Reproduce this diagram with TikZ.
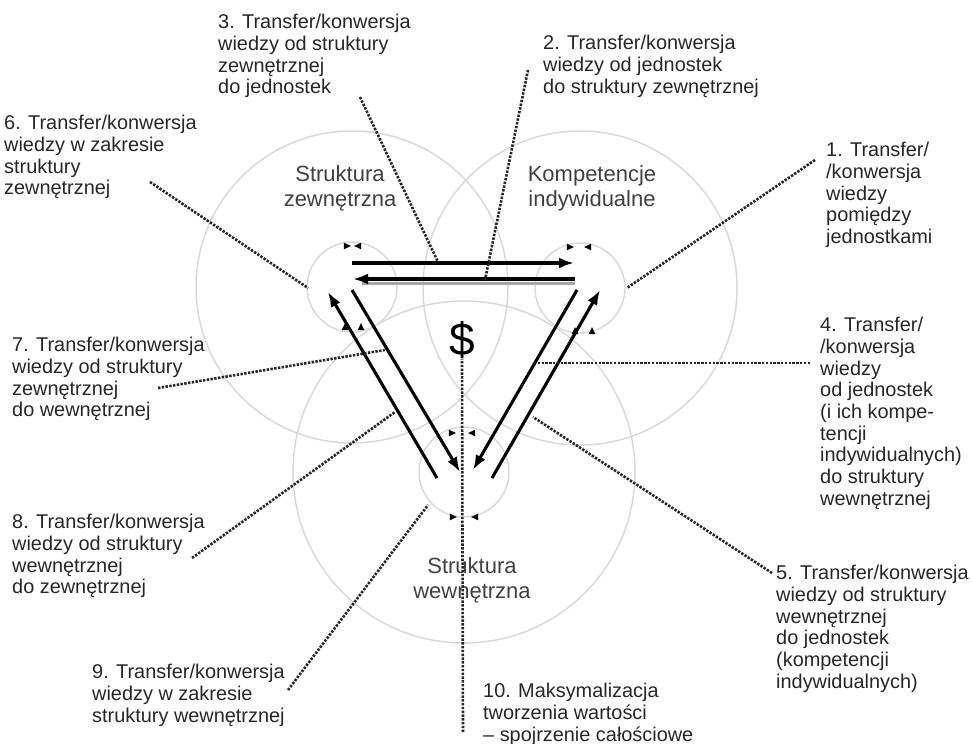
\documentclass[tikz,border=0pt]{standalone}
\usepackage{fontspec}
\setmainfont{Liberation Sans}
\usetikzlibrary{arrows.meta}

\begin{document}
\begin{tikzpicture}[x=1pt, y=-1pt,
    note/.style={inner sep=0pt, anchor=north west, align=left, text=black!85,
                 font=\fontsize{19.9}{21.7}\selectfont},
    area/.style={inner sep=0pt, anchor=center, align=center, text=black!75,
                 font=\fontsize{22}{25}\selectfont},
    ring/.style={draw=black!15, line width=1.5pt},
    flow/.style={line width=3.1pt, -{Latex[length=15pt,width=11pt]}},
    lead/.style={line width=2.6pt, black!85, dash pattern=on 2.4pt off 1.4pt}]
    \useasboundingbox (0,0) rectangle (972,744);

    % centres of the three areas
    \coordinate (L) at (352,287);
    \coordinate (R) at (580,288);
    \coordinate (B) at (464,472);

    \draw[ring] (L) circle[radius=156pt];
    \draw[ring] (R) circle[radius=157pt];
    \draw[ring] (B) circle[radius=171pt];
    \draw[ring] (L) circle[radius=45pt];
    \draw[ring] (R) circle[radius=45pt];
    \draw[ring] (B) circle[radius=45pt];

    % little arrow heads on the inner rings
    \foreach \px/\py/\a in {347/246/0, 358/246/180, 345/327/90, 361/327/90,
                            570/247/0, 588/247/180, 575/331/90, 592/331/90,
                            452/433/0, 472/433/180, 453/517/0, 475/517/180}
        \fill[shift={(\px,\py)}, rotate=\a] (3.8pt,0) -- (-3.2pt,3.4pt) -- (-3.2pt,-3.4pt) -- cycle;

    \node[area] (sz) at (340,188) {Struktura\\zewnętrzna};
    \node[area] (ki) at (592,188) {Kompetencje\\indywidualne};
    \node[area] (sw) at (472,580) {Struktura\\wewnętrzna};
    \node[inner sep=0pt, font=\fontsize{46}{46}\selectfont] (usd) at (462,340) {\$};

    % main flows
    \coordinate (tA) at (352,263); \coordinate (tB) at (574,263);
    \coordinate (uA) at (575,279); \coordinate (uB) at (353,279);
    \coordinate (lo1) at (437,478); \coordinate (lo2) at (328,292);
    \coordinate (li1) at (352,290); \coordinate (li2) at (460,472);
    \coordinate (ri1) at (577,290); \coordinate (ri2) at (473,470);
    \coordinate (ro1) at (492,478); \coordinate (ro2) at (600,290);
    \draw[black!35, line width=2.6pt] (362,283.5) -- (575,283.5);
    \draw[flow] (tA) -- (tB);
    \draw[flow] (uA) -- (uB);
    \draw[flow] (lo1) -- (lo2);
    \draw[flow] (li1) -- (li2);
    \draw[flow] (ri1) -- (ri2);
    \draw[flow] (ro1) -- (ro2);

    % numbered notes
    \node[note] (n1) at (826,142) {1. Transfer/\\/konwersja\\wiedzy\\pomiędzy\\jednostkami};
    \node[note] (n2) at (543,35) {2. Transfer/konwersja\\wiedzy od jednostek\\do struktury zewnętrznej};
    \node[note] (n3) at (218,14) {3. Transfer/konwersja\\wiedzy od struktury\\zewnętrznej\\do jednostek};
    \node[note] (n4) at (820,317) {4. Transfer/\\/konwersja\\wiedzy\\od jednostek\\(i ich kompe-\\tencji\\indywidualnych)\\do struktury\\wewnętrznej};
    \node[note] (n5) at (776,565) {5. Transfer/konwersja\\wiedzy od struktury\\wewnętrznej\\do jednostek\\(kompetencji\\indywidualnych)};
    \node[note] (n6) at (4,115) {6. Transfer/konwersja\\wiedzy w zakresie\\struktury\\zewnętrznej};
    \node[note] (n7) at (12,337) {7. Transfer/konwersja\\wiedzy od struktury\\zewnętrznej\\do wewnętrznej};
    \node[note] (n8) at (12,514) {8. Transfer/konwersja\\wiedzy od struktury\\wewnętrznej\\do zewnętrznej};
    \node[note] (n9) at (92,664) {9. Transfer/konwersja\\wiedzy w zakresie\\struktury wewnętrznej};
    \node[note] (n10) at (483,683) {10. Maksymalizacja\\tworzenia wartości\\– spojrzenie całościowe};

    % leaders
    \coordinate (s1) at (815,160);  \coordinate (e1) at (627,288);
    \coordinate (s2) at (528,70);   \coordinate (e2) at (485,280);
    \coordinate (s3) at (360,97);   \coordinate (e3) at (438,262);
    \coordinate (s4) at (810,363);  \coordinate (e4) at (535,363);
    \coordinate (s5) at (772,573);  \coordinate (e5) at (533,417);
    \coordinate (s6) at (150,182);  \coordinate (e6) at (308,288);
    \coordinate (s7) at (158,388);  \coordinate (e7) at (385,350);
    \coordinate (s8) at (192,558);  \coordinate (e8) at (395,412);
    \coordinate (s9) at (288,690);  \coordinate (e9) at (428,505);
    \coordinate (s10) at (463,732);
    \foreach \i in {1,...,9}
        \draw[lead] (s\i) -- (e\i);
    \draw[lead] (s10) -- (usd.south);
\end{tikzpicture}
\end{document}
